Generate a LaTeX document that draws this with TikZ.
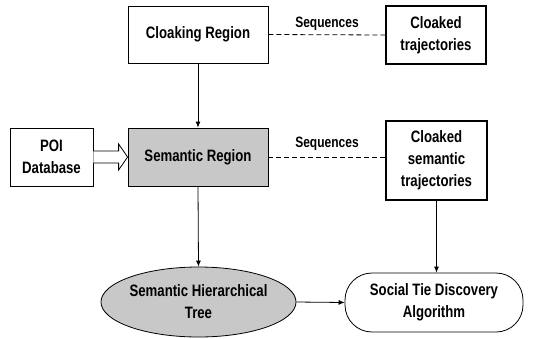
\documentclass[tikz,border=0pt]{standalone}
\usepackage{fontspec}
\setmainfont{Liberation Sans}[FakeStretch=0.8]
\usetikzlibrary{shapes.geometric,arrows.meta,calc}
\definecolor{boxgray}{RGB}{200,200,200}
\tikzset{
  x=1pt, y=-1pt,
  base/.style={draw=black, line width=0.8pt, align=center, inner sep=0pt,
    font=\fontsize{16.5}{22}\selectfont\bfseries},
  rectbox/.style={base, rectangle},
  thickbox/.style={base, rectangle, line width=1.2pt},
  grayfill/.style={fill=boxgray},
  ellbox/.style={base, ellipse, fill=boxgray},
  stadium/.style={base, rectangle, rounded corners=27pt},
  arr/.style={draw=black, line width=0.8pt, -{Latex[length=6pt,width=5pt]}},
  dashline/.style={draw=black, line width=0.8pt, dash pattern=on 5pt off 3pt},
  seqlabel/.style={font=\fontsize{15}{16}\selectfont\bfseries, inner sep=0pt},
}
\begin{document}
\begin{tikzpicture}
\useasboundingbox (0,0) rectangle (549,338);
\node[rectbox, minimum width=140pt, minimum height=57pt] (cr) at (198,34.5) {Cloaking Region};
\node[thickbox, minimum width=100pt, minimum height=58pt] (ct) at (436,35) {Cloaked\\trajectories};
\node[rectbox, minimum width=83pt, minimum height=58pt] (poi) at (51.5,157) {POI\\Database};
\node[rectbox, grayfill, minimum width=140pt, minimum height=58pt] (sr) at (198,157) {Semantic Region};
\node[thickbox, minimum width=101pt, minimum height=79pt] (cst) at (436.5,160.5) {Cloaked\\semantic\\trajectories};
\node[ellbox, minimum width=189pt, minimum height=70pt] (sht) at (198.5,302) {Semantic Hierarchical\\Tree};
\node[stadium, minimum width=178pt, minimum height=59pt] (std) at (434,302.5) {Social Tie Discovery\\Algorithm};

\draw[arr] (cr.south) -- (sr.north);
\draw[dashline] (cr.east) -- (ct.west);
\node[seqlabel] (s1) at (327,24) {Sequences};
\draw[dashline] (sr.east) -- (sr.east -| cst.west);
\node[seqlabel] (s2) at (327,144) {Sequences};
\draw[arr] (sr.south) -- (sht.north);
\draw[arr] (cst.south) -- (cst.south |- std.north);
\draw[arr] (sht.east) -- (std.west);
% hollow double arrow from POI to Semantic Region
\draw[line width=0.8pt, fill=white, line join=miter]
  ($(poi.east)+(0,-6)$) -- ($(sr.west)+(-9,-6)$) -- ($(sr.west)+(-9,-13)$)
  -- (sr.west) -- ($(sr.west)+(-9,13)$) -- ($(sr.west)+(-9,6)$)
  -- ($(poi.east)+(0,6)$);
\end{tikzpicture}
\end{document}
